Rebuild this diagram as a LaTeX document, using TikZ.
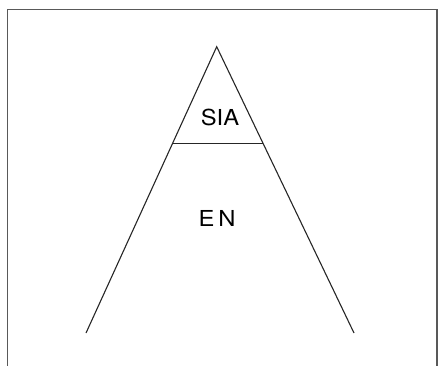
\documentclass[tikz,border=0pt]{standalone}
\usepackage{fontspec}
\setmainfont{TeX Gyre Heros}
\usetikzlibrary{calc}

\begin{document}
\begin{tikzpicture}[x=1pt, y=-1pt, every node/.style={font=\fontsize{22}{24}\selectfont, xscale=1.08}, edge/.style={line width=1.1pt, black!85}]
	\useasboundingbox (0,0) rectangle (438,365);
	\draw[line width=1.5pt, black!65] (7.5,366) -- (7.5,9.5) -- (437,9.5) -- (437,366);
	\coordinate (apex) at (216.7,46.7);
	\coordinate (bl) at (86,333);
	\coordinate (br) at (354,333);
	\coordinate (cutl) at ($(apex)!0.3374!(bl)$);
	\coordinate (cutr) at ($(apex)!0.3374!(br)$);
	\draw[edge] (bl) -- (apex) -- (br);
	\draw[edge] (cutl) -- (cutr);
	\node (sia) at (220,117) {SIA};
	\node (en) at (217,218) {E\,N};
\end{tikzpicture}
\end{document}
